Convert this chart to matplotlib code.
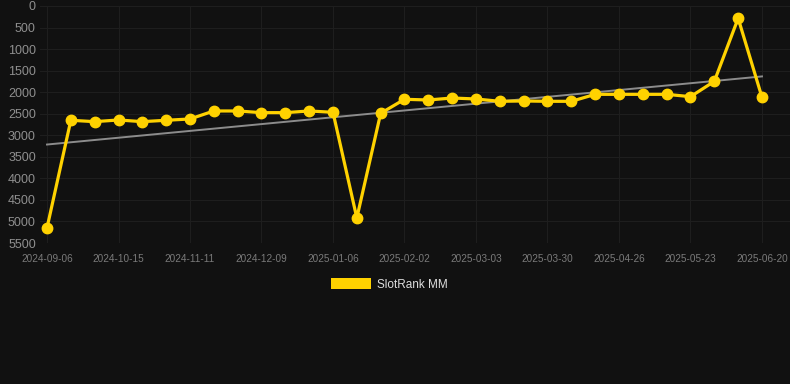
import numpy as np
import matplotlib
matplotlib.use("Agg")
import matplotlib.pyplot as plt
from matplotlib.patches import Rectangle

plt.rcParams['font.family'] = ['Liberation Sans', 'DejaVu Sans']

dates = ["2024-09-06", "", "", "2024-10-15", "", "", "2024-11-11", "", "",
         "2024-12-09", "", "", "2025-01-06", "", "", "2025-02-02", "", "",
         "2025-03-03", "", "", "2025-03-30", "", "", "2025-04-26", "", "",
         "2025-05-23", "", "", "2025-06-20"]
ranks = [5150, 2652, 2684, 2645, 2684, 2652, 2622, 2436, 2436, 2475, 2475,
         2436, 2467, 4919, 2490, 2165, 2181, 2135, 2158, 2212, 2204, 2212,
         2212, 2050, 2050, 2050, 2050, 2104, 1748, 286, 2119]
series_name = "SlotRank MM"
y_ticks = [0, 500, 1000, 1500, 2000, 2500, 3000, 3500, 4000, 4500, 5000, 5500]

bg = "#111111"
W, H = 790, 384
fig = plt.figure(figsize=(W / 100, H / 100), dpi=100, facecolor=bg)
ax = fig.add_axes([40 / W, (H - 243) / H, 750 / W, 237 / H], facecolor=bg)

x = np.arange(len(ranks))
ax.plot(x, ranks, color="#FFD200", lw=2.3, marker="o", ms=7.5, zorder=3,
        solid_joinstyle="round")

coef = np.polyfit(x, ranks, 1)
ax.plot(x, np.polyval(coef, x), color="#8c8c8c", lw=1.4, zorder=2)

ax.set_ylim(5500, 0)
ax.set_yticks(y_ticks)
ax.set_yticklabels([str(v) for v in y_ticks])
step = 23.83
ax.set_xlim(-7 / step, 30 + 28 / step)
lab_idx = [i for i, d in enumerate(dates) if d]
ax.set_xticks(lab_idx)
ax.set_xticklabels([dates[i] for i in lab_idx])

ax.grid(True, color="#1e1e1e", lw=0.8, zorder=0)
for s in ax.spines.values():
    s.set_visible(False)
ax.tick_params(axis="y", length=0, pad=3, labelsize=9, labelcolor="#8f8f8f")
ax.tick_params(axis="x", length=0, pad=8, labelsize=7.2, labelcolor="#7a7a7a")

fig.patches.append(Rectangle((331 / W, 1 - 289 / H), 40 / W, 11 / H,
                             transform=fig.transFigure, facecolor="#FFD200",
                             edgecolor="none"))
fig.text(377 / W, 1 - 284.5 / H, series_name, color="#dddddd", fontsize=8.5,
         va="center", ha="left")

fig.savefig("out.png", dpi=100, facecolor=bg)
